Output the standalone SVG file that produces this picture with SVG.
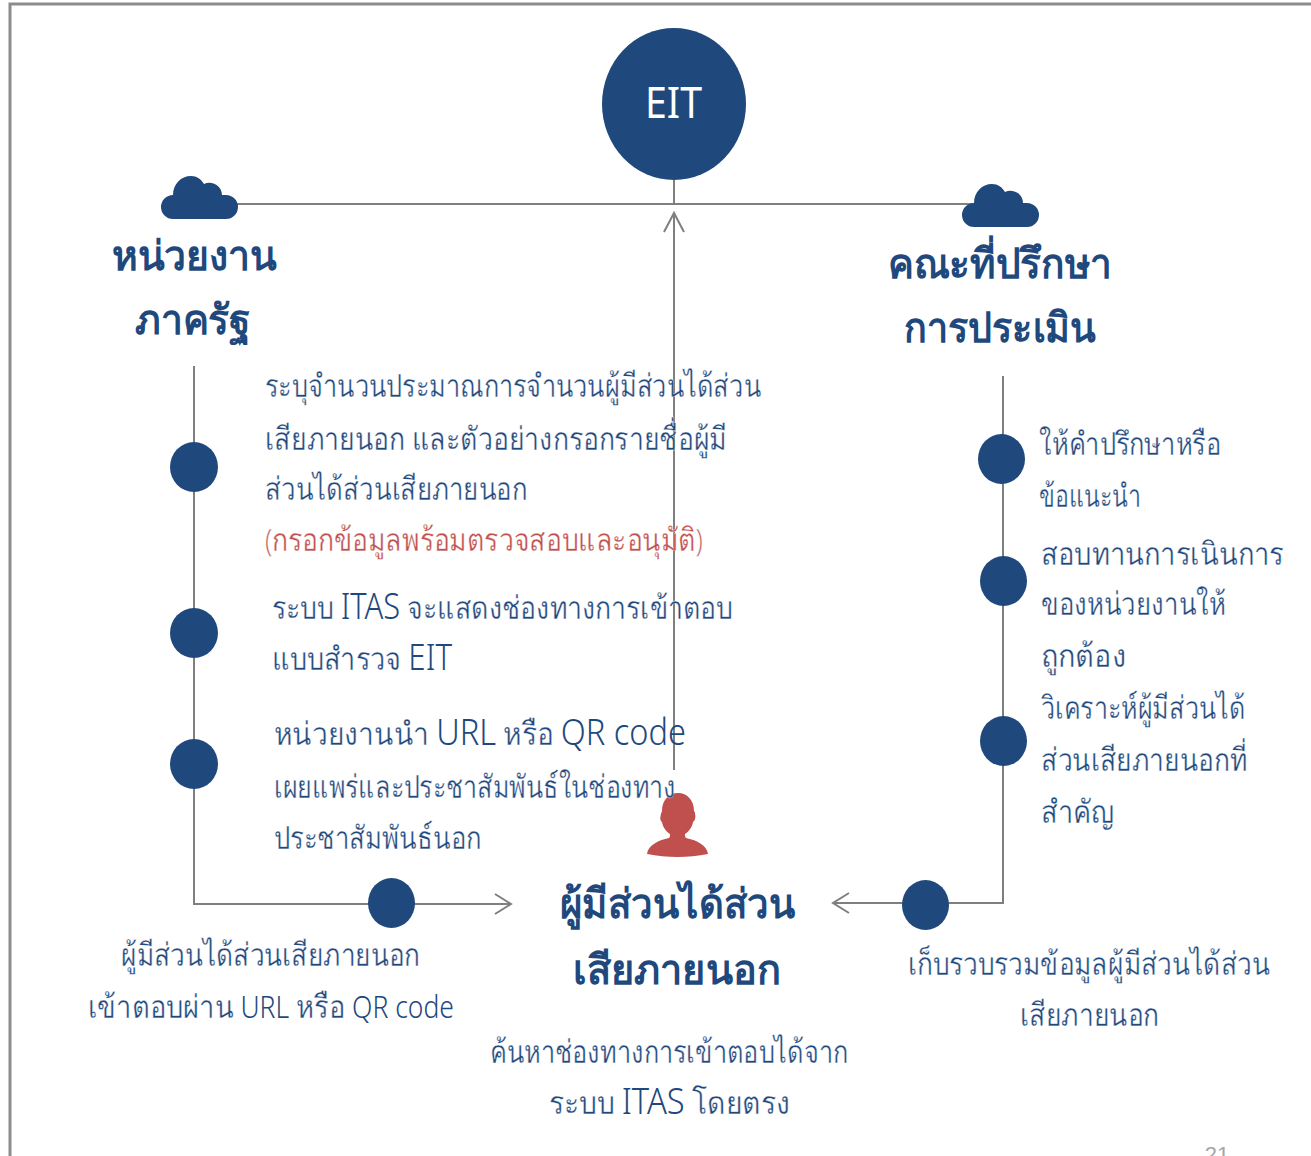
<svg xmlns="http://www.w3.org/2000/svg" width="1311" height="1156" viewBox="0 0 1311 1156">
<style>
.t{font-family:"Noto Sans","Liberation Sans",sans-serif;font-weight:300;font-size:32px;fill:#1f497d;stroke:#fff;stroke-width:.35px}
.e{font-size:37px;stroke:none}
.f{font-size:31px;stroke:none}
.h{font-family:"Noto Sans","Liberation Sans",sans-serif;font-weight:700;font-size:41px;fill:#1f497d;text-anchor:middle}
.m{text-anchor:middle}
.c{fill:#1f497d}
.l{fill:none;stroke:#7f7f7f;stroke-width:2}
</style>
<defs><path id="cloud" d="M173 219a12 12 0 0 1 0-24C173 184 181 176 191 176C197 176 201 179 204 184C212 180 222 186 222 195H226a12 12 0 0 1 0 24z"/></defs>
<rect width="1311" height="1156" fill="#fff"/>
<path d="M10 1156V4H1311" fill="none" stroke="#8c8c8c" stroke-width="3"/>
<g id="connectors">
<path class="l" d="M674 180V204M230 204H975M674 770V214M664 232L674 213L684 232"/>
<path class="l" d="M194 366V904H511M495 894L511 904L495 914"/>
<path class="l" d="M1003 376V903H833M849 893L833 903L849 913"/>
</g>
<g id="eit"><ellipse class="c" cx="674" cy="104" rx="72" ry="76"/><text x="673.500" y="118" font-family="Noto Sans,sans-serif" font-size="44" fill="#fff" text-anchor="middle" textLength="57" lengthAdjust="spacingAndGlyphs">EIT</text></g>
<g id="state"><use href="#cloud" class="c"/><text class="h" x="194.500" y="270" textLength="165" lengthAdjust="spacingAndGlyphs">หน่วยงาน</text><text class="h" x="193" y="334" textLength="116" lengthAdjust="spacingAndGlyphs">ภาครัฐ</text></g>
<g id="advisors"><use href="#cloud" class="c" x="801" y="8"/><text class="h" x="1000" y="278" textLength="224" lengthAdjust="spacingAndGlyphs">คณะที่ปรึกษา</text><text class="h" x="1000" y="342" textLength="192" lengthAdjust="spacingAndGlyphs">การประเมิน</text></g>
<g id="stakeholder">
<path fill="#c0504d" d="M647 854c1-9 12-14 22-16c1-1 1-2 1-4c-3-2-7-6-8-12c-2-1-2-5-1-8c0-1 1-2 1-3c0-11 7-18 16-18s16 7 16 18c1 1 1 2 1 3c1 3 0 7-2 8c-1 6-5 10-8 12c0 2 0 3 1 4c10 2 21 7 22 16c-20 4-41 4-61 0z"/>
<text class="h" x="677.500" y="918" textLength="235" lengthAdjust="spacingAndGlyphs">ผู้มีส่วนได้ส่วน</text><text class="h" x="677" y="984" textLength="208" lengthAdjust="spacingAndGlyphs">เสียภายนอก</text>
<text class="t m" x="669" y="1063" textLength="358" lengthAdjust="spacingAndGlyphs">ค้นหาช่องทางการเข้าตอบได้จาก</text><text class="t m" x="669.500" y="1114" textLength="241" lengthAdjust="spacingAndGlyphs">ระบบ <tspan class="e">ITAS</tspan> โดยตรง</text>
</g>
<g id="s1"><ellipse class="c" cx="194" cy="467" rx="24" ry="25"/><text class="t" x="265" y="397" textLength="496" lengthAdjust="spacingAndGlyphs">ระบุจำนวนประมาณการจำนวนผู้มีส่วนได้ส่วน</text><text class="t" x="265" y="450" textLength="462" lengthAdjust="spacingAndGlyphs">เสียภายนอก และตัวอย่างกรอกรายชื่อผู้มี</text><text class="t" x="265" y="500" textLength="262" lengthAdjust="spacingAndGlyphs">ส่วนได้ส่วนเสียภายนอก</text><text class="t" x="265" y="551" textLength="438" lengthAdjust="spacingAndGlyphs" style="fill:#c0504d">(กรอกข้อมูลพร้อมตรวจสอบและอนุมัติ)</text></g>
<g id="s2"><ellipse class="c" cx="194" cy="633" rx="24" ry="25"/><text class="t" x="272" y="619" textLength="461" lengthAdjust="spacingAndGlyphs">ระบบ <tspan class="e">ITAS</tspan> จะแสดงช่องทางการเข้าตอบ</text><text class="t" x="272" y="670" textLength="180" lengthAdjust="spacingAndGlyphs">แบบสำรวจ <tspan class="e">EIT</tspan></text></g>
<g id="s3"><ellipse class="c" cx="194" cy="764" rx="24" ry="25"/><text class="t" x="274" y="745" textLength="412" lengthAdjust="spacingAndGlyphs">หน่วยงานนำ <tspan class="e">URL</tspan> หรือ <tspan class="e">QR code</tspan></text><text class="t" x="274" y="798" textLength="402" lengthAdjust="spacingAndGlyphs">เผยแพร่และประชาสัมพันธ์ในช่องทาง</text><text class="t" x="274" y="849" textLength="207" lengthAdjust="spacingAndGlyphs">ประชาสัมพันธ์นอก</text></g>
<g id="s4"><ellipse class="c" cx="391.500" cy="903" rx="23.500" ry="25"/><text class="t m" x="270.500" y="966" textLength="299" lengthAdjust="spacingAndGlyphs">ผู้มีส่วนได้ส่วนเสียภายนอก</text><text class="t m" x="271" y="1018" textLength="366" lengthAdjust="spacingAndGlyphs">เข้าตอบผ่าน <tspan class="f">URL</tspan> หรือ <tspan class="f">QR code</tspan></text></g>
<g id="a1"><ellipse class="c" cx="1001.500" cy="459" rx="23.500" ry="25"/><text class="t" x="1039" y="455" textLength="182" lengthAdjust="spacingAndGlyphs">ให้คำปรึกษาหรือ</text><text class="t" x="1039" y="507" textLength="102" lengthAdjust="spacingAndGlyphs">ข้อแนะนำ</text></g>
<g id="a2"><ellipse class="c" cx="1003.500" cy="581" rx="23.500" ry="25"/><text class="t" x="1041" y="565" textLength="243" lengthAdjust="spacingAndGlyphs">สอบทานการเนินการ</text><text class="t" x="1041" y="615" textLength="185" lengthAdjust="spacingAndGlyphs">ของหน่วยงานให้</text><text class="t" x="1041" y="667" textLength="85" lengthAdjust="spacingAndGlyphs">ถูกต้อง</text></g>
<g id="a3"><ellipse class="c" cx="1003.500" cy="741" rx="23.500" ry="25"/><text class="t" x="1041" y="719" textLength="204" lengthAdjust="spacingAndGlyphs">วิเคราะห์ผู้มีส่วนได้</text><text class="t" x="1041" y="771" textLength="206" lengthAdjust="spacingAndGlyphs">ส่วนเสียภายนอกที่</text><text class="t" x="1041" y="823" textLength="73" lengthAdjust="spacingAndGlyphs">สำคัญ</text></g>
<g id="a4"><ellipse class="c" cx="925.500" cy="905" rx="23.500" ry="25"/><text class="t m" x="1089" y="975" textLength="362" lengthAdjust="spacingAndGlyphs">เก็บรวบรวมข้อมูลผู้มีส่วนได้ส่วน</text><text class="t m" x="1089.500" y="1026" textLength="139" lengthAdjust="spacingAndGlyphs">เสียภายนอก</text></g>
<text x="1217" y="1162" font-family="Liberation Sans,sans-serif" font-size="22" fill="#a6a6a6" text-anchor="middle">21</text>
</svg>
